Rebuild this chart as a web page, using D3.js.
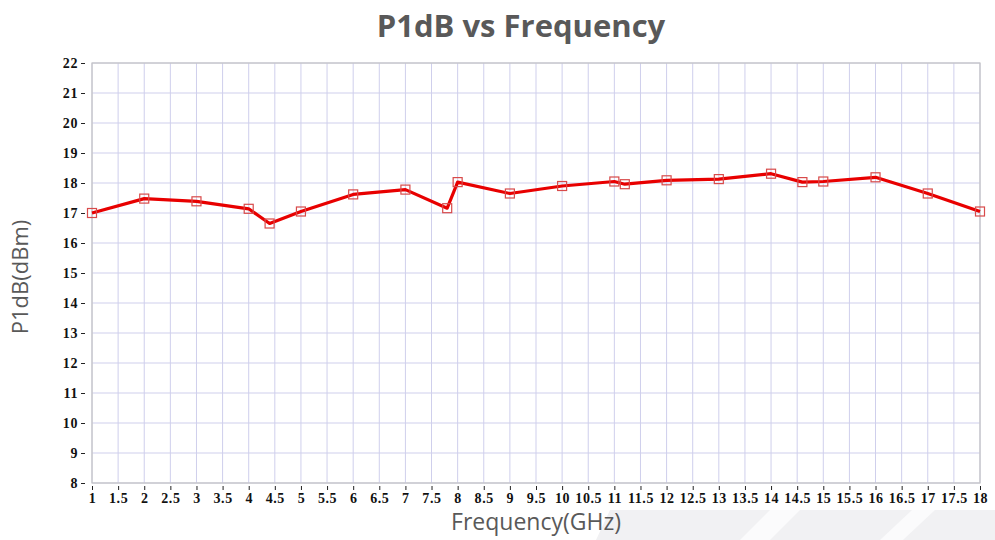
<!DOCTYPE html>
<html>
<head>
<meta charset="utf-8">
<script src="https://cdn.jsdelivr.net/npm/d3@7"></script>
<style>
  html, body { margin: 0; padding: 0; background: #fff; }
  svg { display: block; }
</style>
</head>
<body>
<script>
// data
const freqs = [1, 2, 3, 4, 4.4, 5, 6, 7, 7.8, 8, 9, 10, 11, 11.2, 12, 13, 14, 14.6, 15, 16, 17, 18];
const p1db  = [17.0, 17.48, 17.39, 17.14, 16.65, 17.05, 17.62, 17.78, 17.16, 18.03, 17.65, 17.9, 18.05, 17.96, 18.09, 18.13, 18.31, 18.03, 18.05, 18.19, 17.65, 17.05];
const xTicks = d3.range(1, 18.01, 0.5);
const yTicks = d3.range(8, 22.01, 1);

const width = 995, height = 540;
const plot = { left: 92, right: 980, top: 63, bottom: 483 };

const svg = d3.select("body").append("svg")
  .attr("xmlns", "http://www.w3.org/2000/svg")
  .attr("width", width)
  .attr("height", height);

// slide background bits at the bottom right
const bg = svg.append("g").attr("class", "bg");
bg.append("path")
  .attr("d", "M610,510 L995,510 L995,540 L596,540 Z")
  .attr("fill", "#f1f1f3");
bg.append("path")
  .attr("d", "M740,540 L770,510 L800,510 L770,540 Z")
  .attr("fill", "#fbfbfc");
bg.append("path")
  .attr("d", "M880,540 L912,510 L935,510 L903,540 Z")
  .attr("fill", "#fbfbfc");

const x = d3.scaleLinear().domain([1, 18]).range([plot.left, plot.right]);
const y = d3.scaleLinear().domain([8, 22]).range([plot.bottom, plot.top]);

// grid
const grid = svg.append("g").attr("class", "grid");
grid.selectAll("line.v")
  .data(xTicks)
  .join("line")
  .attr("class", "v")
  .attr("x1", d => x(d)).attr("x2", d => x(d))
  .attr("y1", plot.top).attr("y2", plot.bottom)
  .attr("stroke", "#cfcfec")
  .attr("stroke-width", 1);
grid.selectAll("line.h")
  .data(yTicks)
  .join("line")
  .attr("class", "h")
  .attr("x1", plot.left).attr("x2", plot.right)
  .attr("y1", d => y(d)).attr("y2", d => y(d))
  .attr("stroke", "#cfcfec")
  .attr("stroke-width", 1);

// frame
svg.append("rect")
  .attr("x", plot.left).attr("y", plot.top)
  .attr("width", plot.right - plot.left)
  .attr("height", plot.bottom - plot.top)
  .attr("fill", "none")
  .attr("stroke", "#c4c4c4")
  .attr("stroke-width", 1.2);

// axes
const fmt = d => String(d);
const xAxis = d3.axisBottom(x).tickValues(xTicks).tickSize(4).tickPadding(3).tickFormat(fmt);
const yAxis = d3.axisLeft(y).tickValues(yTicks).tickSize(4).tickPadding(3).tickFormat(fmt);

const gx = svg.append("g")
  .attr("class", "x-axis")
  .attr("transform", `translate(0,${plot.bottom + 3})`)
  .call(xAxis);
const gy = svg.append("g")
  .attr("class", "y-axis")
  .attr("transform", `translate(${plot.left - 7},0)`)
  .call(yAxis);

[gx, gy].forEach(g => {
  g.select(".domain").remove();
  g.selectAll(".tick line").attr("stroke", "#222").attr("stroke-width", 1);
  g.selectAll(".tick text")
    .attr("fill", "#111")
    .style("font-family", "'Liberation Serif', 'DejaVu Serif', serif")
    .style("font-weight", "bold")
    .style("font-size", "14px")
    .style("letter-spacing", "0.6px");
});

// series line
const line = d3.line()
  .x((d, i) => x(freqs[i]))
  .y(d => y(d));

svg.append("path")
  .datum(p1db)
  .attr("d", line)
  .attr("fill", "none")
  .attr("stroke", "#e80000")
  .attr("stroke-width", 3.2)
  .attr("stroke-linejoin", "round");

svg.append("g").attr("class", "markers")
  .selectAll("rect")
  .data(p1db)
  .join("rect")
  .attr("x", (d, i) => x(freqs[i]) - 4.5)
  .attr("y", d => y(d) - 4.5)
  .attr("width", 9)
  .attr("height", 9)
  .attr("fill", "none")
  .attr("stroke", "#d84a4a")
  .attr("stroke-width", 1.2);

// titles
svg.append("text")
  .attr("x", 521)
  .attr("y", 37)
  .attr("text-anchor", "middle")
  .attr("fill", "#595959")
  .style("font-family", "'Open Sans', 'Noto Sans', sans-serif")
  .style("font-weight", "bold")
  .style("font-size", "31px")
  .text("P1dB vs Frequency");

svg.append("text")
  .attr("x", 536)
  .attr("y", 530)
  .attr("text-anchor", "middle")
  .attr("fill", "#595959")
  .style("font-family", "'Open Sans', 'Noto Sans', sans-serif")
  .style("font-size", "23px")
  .text("Frequency(GHz)");

svg.append("text")
  .attr("transform", "translate(28,277) rotate(-90)")
  .attr("text-anchor", "middle")
  .attr("fill", "#595959")
  .style("font-family", "'Open Sans', 'Noto Sans', sans-serif")
  .style("font-size", "22px")
  .text("P1dB(dBm)");
</script>
</body>
</html>
